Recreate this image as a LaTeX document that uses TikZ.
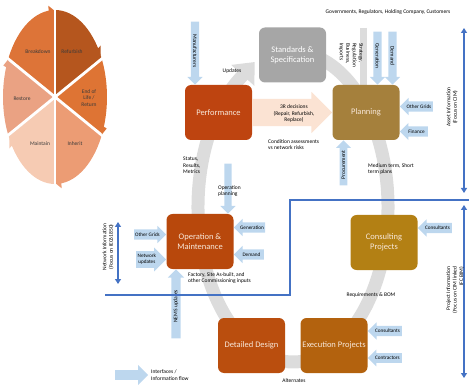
\documentclass[tikz,border=0pt]{standalone}
\usepackage{fontspec}
\setmainfont{Carlito}
\usetikzlibrary{positioning,arrows.meta,shapes.arrows,backgrounds}

\definecolor{perfred}{HTML}{BE4410}
\definecolor{omred}{HTML}{B8480C}
\definecolor{detred}{HTML}{BA4E0E}
\definecolor{execbrown}{HTML}{B3620E}
\definecolor{consgold}{HTML}{B38014}
\definecolor{plantan}{HTML}{A5803C}
\definecolor{stdgray}{HTML}{A6A6A6}
\definecolor{ringgray}{HTML}{DCDCDC}
\definecolor{peach}{HTML}{FBE3D3}
\definecolor{flowblue}{HTML}{BDD7EE}
\definecolor{linkblue}{HTML}{4472C4}
\definecolor{boxtext}{HTML}{F8E8DA}
\definecolor{pieA}{HTML}{B5561E}
\definecolor{pieB}{HTML}{DE7434}
\definecolor{pieC}{HTML}{EC9C74}
\definecolor{pieD}{HTML}{F6CBB3}
\definecolor{pieE}{HTML}{EAA283}
\definecolor{pieF}{HTML}{DD7438}
\definecolor{pietext}{HTML}{3A3A3A}

\begin{document}
\begin{tikzpicture}[
      x=1pt, y=-1pt,
      font=\fontsize{5.5}{6.5}\selectfont,
      box/.style={rounded corners=6pt, minimum width=67pt, minimum height=55pt,
                  inner xsep=1pt, align=center, text=boxtext,
                  font=\fontsize{8.5}{10}\selectfont},
      inflow/.style={single arrow, fill=flowblue, inner xsep=1pt, inner ysep=3pt,
                     single arrow head extend=3.5pt, align=center,
                     font=\fontsize{5.2}{5.8}\selectfont},
      vflow/.style={inflow, inner ysep=2pt, single arrow head extend=3.5pt,
                    font=\fontsize{5.5}{6}\selectfont},
      lbl/.style={align=left, inner sep=0pt},
      pielbl/.style={align=center, inner sep=0pt, text=pietext},
      link/.style={linkblue, line width=2pt,
                   {Triangle[width=6pt,length=5pt]}-{Triangle[width=6pt,length=5pt]}},
    ]
    \useasboundingbox (0,0) rectangle (469,385);

    % asset life cycle wheel
    \begin{scope}[shift={(55,97)}, yscale=-1]
      \foreach \a/\b/\c in {90/27/pieA, 27/-27/pieB, -27/-90/pieC,
                            -90/-153/pieD, -153/-207/pieE, 153/90/pieF}{
        \fill[\c] (0,0) -- ({52*cos(\a)},{87*sin(\a)})
          arc[start angle=\a, end angle=\b, x radius=52, y radius=87] -- cycle;
      }
      \foreach \t in {90,27,-27,-90,-153,153}
        \draw[white, line width=2.8pt] (0,0) -- ({60*cos(\t)},{96*sin(\t)});
      \foreach \b/\c in {27/pieA, -27/pieB, -90/pieC, -153/pieD, -207/pieE, 90/pieF}
        \fill[\c] ({55*cos(\b+7)},{92*sin(\b+7)}) -- ({52*cos(\b+1.5)},{87*sin(\b+1.5)})
          -- ({49*cos(\b+7)},{82*sin(\b+7)}) -- cycle;
    \end{scope}
    \node[pielbl] (brk) at (38,52)  {Breakdown};
    \node[pielbl] (ref) at (72,52)  {Refurbish};
    \node[pielbl] (eol) at (89,98)  {End of\\Life /\\Return};
    \node[pielbl] (inh) at (75,144) {Inherit};
    \node[pielbl] (mnt) at (40,144) {Maintain};
    \node[pielbl] (rst) at (22,99)  {Restore};

    % process boxes
    \node[box, fill=perfred]             (perf) at (218.5,112.5) {Performance};
    \node[box, fill=stdgray, text=white] (std)  at (292.5,55)    {Standards \&\\Specification};
    \node[box, fill=plantan]             (plan) at (366,112.5)   {Planning};
    \node[box, fill=omred]               (om)   at (200,241.5)   {Operation \&\\Maintenance};
    \node[box, fill=consgold]            (cons) at (384,242.5)   {Consulting\\Projects};
    \node[box, fill=detred]              (det)  at (251.5,345.5) {Detailed Design};
    \node[box, fill=execbrown]           (exec) at (334,345.5)   {Execution Projects};

    % grey loop behind the boxes
    \begin{scope}[on background layer]
      \begin{scope}[shift={(293,207)}, yscale=-1]
        \draw[ringgray, line width=13pt, -{Triangle[length=18pt,width=30pt]}]
          ({95*cos(80)},{155*sin(80)})
          arc[start angle=80, end angle=-235, x radius=95, y radius=155]
          -- ([xshift=-4pt, yshift=7pt]std.west);
      \end{scope}
      \coordinate (stratTop) at (363.5,28);
      \draw[ringgray, line width=7pt] (stratTop) -- (stratTop |- plan.north);
    \end{scope}

    % 3R decisions
    \node[single arrow, fill=peach, minimum height=80pt, minimum width=41pt,
          inner xsep=0pt, inner ysep=13.5pt, single arrow head extend=7pt,
          single arrow head indent=0pt, anchor=tip] (rdec) at (plan.west) {};
    \node[lbl, align=center] (rtext) at (294,114) {3R decisions\\(Repair, Refurbish,\\Replace)};
    \node[lbl, anchor=north west] (cond) at (268,139) {Condition assessments\\vs network risks};

    % inputs around the boxes
    \node[vflow, rotate=-90, anchor=tip, minimum height=63pt] (manu)
      at ([xshift=-23.5pt]perf.north) {Manufacturers};
    \node[vflow, rotate=-90, anchor=tip, minimum height=53pt] (pgen)
      at ([xshift=11.5pt]plan.north) {Generation};
    \node[vflow, rotate=-90, anchor=tip, minimum height=53pt] (pdem)
      at ([xshift=26.5pt]plan.north) {Demand};
    \node[vflow, rotate=90, anchor=tip, minimum height=45pt] (proc)
      at ([xshift=-22.5pt]plan.south) {Procurement};
    \node[inflow, shape border rotate=180, anchor=tip, minimum height=33pt] (pgrid)
      at ([yshift=6pt]plan.east) {Other Grids};
    \node[inflow, shape border rotate=180, anchor=tip, minimum height=28pt] (pfin)
      at ([yshift=-19pt]plan.east) {Finance};

    \node[inflow, anchor=tip, minimum height=32pt] (ogrid)
      at ([yshift=7pt]om.west) {Other Grids};
    \node[inflow, anchor=tip, minimum height=30pt] (onet)
      at ([yshift=-18pt]om.west) {Network\\updates};
    \node[inflow, shape border rotate=180, anchor=tip, minimum height=30pt] (ogen)
      at ([yshift=14pt]om.east) {Generation};
    \node[inflow, shape border rotate=180, anchor=tip, minimum height=30pt] (odem)
      at ([yshift=-13pt]om.east) {Demand};
    \node[vflow, rotate=-90, anchor=tip, minimum height=50pt, inner ysep=3.5pt,
          single arrow head extend=4pt] (oplan) at ([xshift=28pt]om.north) {};
    \node[vflow, rotate=90, anchor=tip, minimum height=69pt] (nems)
      at ([xshift=-24pt]om.south) {NEMS updates};

    \node[inflow, shape border rotate=180, anchor=tip, minimum height=34pt] (ccons)
      at ([yshift=14.5pt]cons.east) {Consultants};
    \node[inflow, shape border rotate=180, anchor=tip, minimum height=34pt] (econs)
      at ([yshift=14.5pt]exec.east) {Consultants};
    \node[inflow, shape border rotate=180, anchor=tip, minimum height=34pt] (econt)
      at ([yshift=-12.5pt]exec.east) {Contractors};

    % labels on the loop
    \node[lbl] (gov) at (388,12) {Governments, Regulators, Holding Company, Customers};
    \node[lbl, rotate=-90, anchor=center] (strat) at (351,55) {Strategy,\\Regulation\\Business,\\Imports};
    \node[lbl] (upd) at (232,71) {Updates};
    \node[lbl, anchor=north west] (stat) at (183,157) {Status,\\Results,\\Metrics};
    \node[lbl, anchor=north west] (opl) at (218,185) {Operation\\planning};
    \node[lbl, anchor=north west] (med) at (368,163) {Medium term, Short\\term plans};
    \node[lbl, anchor=north west] (fact) at (188,272) {Factory, Site As-built, and\\other Commissioning inputs};
    \node[lbl] (req) at (371,295) {Requirements \& BOM};
    \node[lbl] (alt) at (294,381) {Alternates};

    % information domains
    \coordinate (sepR) at (469,200);
    \coordinate (sepC) at (290,200);
    \coordinate (sepB) at (290,295);
    \coordinate (sepL) at (105,295);
    \draw[linkblue, line width=1.8pt] (sepR) -- (sepC) -- (sepB) -- (sepL);
    \coordinate (assetTop) at (464,28);
    \coordinate (assetBot) at (464,193);
    \coordinate (projTop)  at (464,205);
    \coordinate (projBot)  at (464,378);
    \coordinate (netTop)   at (118,222);
    \coordinate (netBot)   at (118,284);
    \draw[link] (assetTop) -- (assetBot);
    \draw[link] (projTop) -- (projBot);
    \draw[link] (netTop) -- (netBot);
    \node[rotate=90, align=center, inner sep=0pt] (assetlbl) at (452,107)
      {Asset Information\\(Focus on CIM)};
    \node[rotate=90, align=right, inner sep=0pt] (projlbl) at (455,290)
      {Project Information\\(Focus on CIM linked\\IFC BIM)};
    \node[rotate=90, align=center, inner sep=0pt] (netlbl) at (108,247)
      {Network Information\\(Focus on IEC61850)};

    % legend
    \node[inflow, anchor=west, minimum height=33pt, minimum width=20pt] (legarrow) at (115,375) {};
    \node[lbl, anchor=north west] (legtext) at (151,369) {Interfaces /\\[1pt]Information flow};
  \end{tikzpicture}
\end{document}
